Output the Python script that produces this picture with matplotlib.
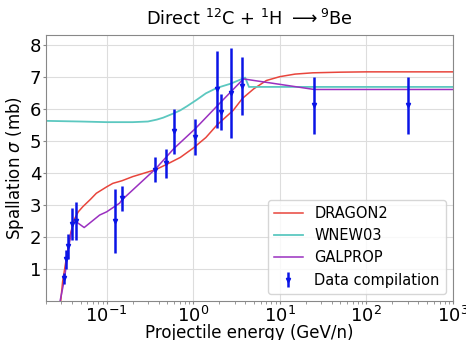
import matplotlib
matplotlib.use("Agg")
import matplotlib.pyplot as plt

# Data compilation (GeV/n, mb)
data_energy = [0.032, 0.034, 0.036, 0.040, 0.044, 0.126, 0.150, 0.366, 0.49,
               0.595, 1.05, 1.86, 2.1, 2.7, 3.63, 25, 300]
data_sigma = [0.7, 1.3, 1.7, 2.4, 2.5, 2.5, 3.2, 4.1, 4.3, 5.3, 5.12, 6.6,
              5.9, 6.5, 6.7, 6.1, 6.1]
data_err = [0.18, 0.3, 0.4, 0.5, 0.6, 1.0, 0.4, 0.4, 0.45, 0.7, 0.55, 1.2,
            0.55, 1.4, 0.9, 0.9, 0.9]

# DRAGON2 cross section
dragon_energy = [0.0295, 0.031, 0.034, 0.038, 0.042, 0.047, 0.053, 0.065,
                 0.076, 0.1, 0.118, 0.15, 0.2, 0.28, 0.37, 0.5, 0.71, 1.0,
                 1.4, 1.88, 2.9, 3.7, 5.0, 7.0, 10, 15, 24, 50, 100, 1000]
dragon_sigma = [0.0, 0.6, 1.28, 2.06, 2.53, 2.78, 2.94, 3.17, 3.36, 3.56,
                3.67, 3.75, 3.88, 4.0, 4.1, 4.27, 4.48, 4.77, 5.1, 5.49,
                5.95, 6.32, 6.62, 6.88, 7.0, 7.08, 7.12, 7.14, 7.15, 7.15]

# WNEW03 cross section
wnew_energy = [0.02, 0.05, 0.1, 0.2, 0.3, 0.38, 0.45, 0.59, 0.71, 0.85, 1.1,
               1.4, 1.88, 2.7, 3.98, 4.4, 10, 1000]
wnew_sigma = [5.62, 5.6, 5.58, 5.58, 5.6, 5.66, 5.72, 5.85, 5.95, 6.08, 6.28,
              6.48, 6.65, 6.78, 6.97, 6.68, 6.68, 6.68]

# GALPROP cross section
galprop_energy = [0.029, 0.0325, 0.036, 0.04, 0.043, 0.055, 0.083, 0.1, 0.141,
                  0.15, 0.37, 0.6, 1.06, 1.88, 3.8, 25, 1000]
galprop_sigma = [0.0, 0.66, 1.6, 2.3, 2.5, 2.29, 2.68, 2.78, 3.05, 3.15, 4.13,
                 4.76, 5.38, 6.08, 6.93, 6.6, 6.6]

fig, ax = plt.subplots(figsize=(4.66, 3.4), dpi=100)
fig.subplots_adjust(left=0.099, right=0.972, bottom=0.115, top=0.897)

ax.plot(dragon_energy, dragon_sigma, color="#e8453c", lw=1.1, label="DRAGON2")
ax.plot(wnew_energy, wnew_sigma, color="#5cc8c0", lw=1.3, label="WNEW03")
ax.plot(galprop_energy, galprop_sigma, color="#9a30c0", lw=1.1, label="GALPROP")
ax.errorbar(data_energy, data_sigma, yerr=data_err, fmt="v", ms=3,
            color="#0a14e6", elinewidth=1.8, capsize=0, label="Data compilation")

ax.set_xscale("log")
ax.set_xlim(0.02, 1000)
ax.set_ylim(0, 8.3)
ax.set_yticks(range(1, 9))
ax.grid(True, which="major", color="#dddddd", lw=0.8)
ax.set_axisbelow(True)
for s in ax.spines.values():
    s.set_color("#888888")
ax.tick_params(which="both", colors="#888888", labelcolor="black",
               labelsize=13, pad=1)
ax.tick_params(which="major", length=2.5)
ax.tick_params(which="minor", length=1.8)

ax.set_title(r"Direct $^{12}$C + $^{1}$H $\longrightarrow$$^{9}$Be",
             fontsize=12.8, pad=7)
ax.set_xlabel("Projectile energy (GeV/n)", fontsize=12)
ax.set_ylabel(r"Spallation $\sigma$ (mb)", fontsize=12)
ax.xaxis.set_label_coords(0.5, -0.088)
ax.yaxis.set_label_coords(-0.05, 0.5)
ax.legend(loc="lower right", fontsize=10.5)

fig.savefig("out.png")
